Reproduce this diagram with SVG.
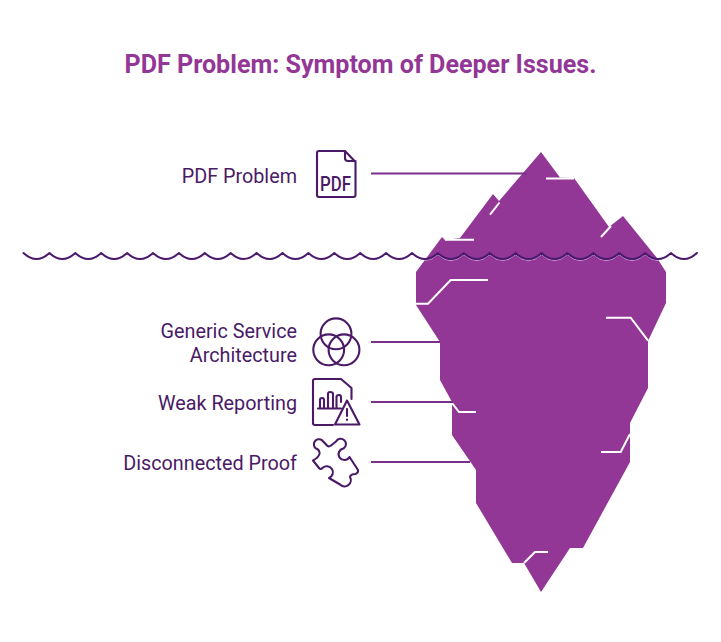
<svg xmlns="http://www.w3.org/2000/svg" width="721" height="642" viewBox="0 0 721 642">
<style>
.title{font:700 25.100px Roboto,"Liberation Sans",sans-serif;fill:#933797}
.label{font:400 19.800px Roboto,"Liberation Sans",sans-serif;fill:#4a1a66;text-anchor:end}
.ico{fill:none;stroke:#4a1a66;stroke-width:2.100;stroke-linecap:round;stroke-linejoin:round}
.crack{fill:none;stroke:#fff;stroke-width:2;stroke-linejoin:miter}
.conn{fill:none;stroke:#7a2f8a;stroke-width:2}
.wave{fill:none;stroke:#4a1a6e;stroke-width:2;stroke-linecap:round;stroke-linejoin:round}
</style>
<defs>
<path id="wavePath" d="M23.500,253q13,12 25.900,0q13,12 25.900,0q13,12 25.900,0q13,12 25.900,0q13,12 25.900,0q13,12 25.900,0q13,12 25.900,0q13,12 25.900,0q13,12 25.900,0q13,12 25.900,0q13,12 25.900,0q13,12 25.900,0q13,12 25.900,0q13,12 25.900,0q13,12 25.900,0q13,12 25.900,0q13,12 25.900,0q13,12 25.900,0q13,12 25.900,0q13,12 25.900,0q13,12 25.900,0q13,12 25.900,0q13,12 25.900,0q13,12 25.900,0q13,12 25.900,0q13,12 25.900,0"/>
<clipPath id="bergClip"><path d="M541,152 L560,177.500 L574,178 L609,227 L623,216 L657,258 L666,272 L666,303 L648,341 L648,388 L630,423 L630,462 L583,548 L570,548 L541,592 L524,563 L512,563 L476,503 L476,470 L452,435 L452,402 L440,380 L440,342 L416,305 L416,272 L442,237 L445,240 L460,238 L493,194 L499,201 Z"/></clipPath>
</defs>
<rect width="721" height="642" fill="#fff"/>
<text class="title" x="360.500" y="72.500" text-anchor="middle">PDF Problem: Symptom of Deeper Issues.</text>
<g id="iceberg">
<path fill="#933797" d="M541,152 L560,177.500 L574,178 L609,227 L623,216 L657,258 L666,272 L666,303 L648,341 L648,388 L630,423 L630,462 L583,548 L570,548 L541,592 L524,563 L512,563 L476,503 L476,470 L452,435 L452,402 L440,380 L440,342 L416,305 L416,272 L442,237 L445,240 L460,238 L493,194 L499,201 Z"/>
<path class="crack" d="M546,178.500H574M490,214.700L499.500,202.500M445,239.700H474M601,237L611,226M416,303.700H428L450.700,280H488M606,317.700H630.700L648,340.700M452,403L459,412H476M601,452H620.700L630,434M524,563L535,552H548"/>
</g>
<g id="connectors">
<path class="conn" d="M371,173.500H527M371,342H440M371,402H453M371,462H470"/>
</g>
<g clip-path="url(#bergClip)"><use href="#wavePath" transform="translate(0,1.600)" fill="none" stroke="#c79bca" stroke-width="1"/></g>
<use id="water" href="#wavePath" class="wave"/>
<g id="pdf-problem">
<text class="label" x="297" y="182.500">PDF Problem</text>
<path class="ico" d="M345,151H319Q317,151 317,153V195Q317,197 319,197H353.500Q355.500,197 355.500,195V162L345,151V158Q345,161 348,161H355.500"/>
<text x="320" y="191" font-family="Roboto,'Liberation Sans',sans-serif" font-size="20" font-weight="500" fill="#4a1a66" textLength="31" lengthAdjust="spacingAndGlyphs">PDF</text>
</g>
<g id="generic-service">
<text class="label" x="297" y="338">Generic Service</text>
<text class="label" x="297" y="362">Architecture</text>
<circle class="ico" cx="336" cy="333.800" r="15.400"/>
<circle class="ico" cx="328.700" cy="349.800" r="15.400"/>
<circle class="ico" cx="344" cy="349.800" r="15.400"/>
</g>
<g id="weak-reporting">
<text class="label" x="297" y="410">Weak Reporting</text>
<path class="ico" d="M333,425H315Q313,425 313,423V381Q313,379 315,379H341L351.500,388V399"/>
<path class="ico" d="M318,408.500H341M320,408.500V400Q320,398 322,398Q324,398 324,400V408.500M328,408.500V394Q328,392 330,392Q333,392 333,394V408.500M336.500,408.500V397Q336.500,395 339,395Q341,395 341,397V402"/>
<path class="ico" d="M347,400.500L335,424.500H359.500Z"/>
<path class="ico" d="M347,409V416M347,419.500V420"/>
</g>
<g id="disconnected-proof">
<text class="label" x="297" y="470">Disconnected Proof</text>
<path class="ico" d="M322,440.200L327.500,446Q329,447 331,445.500L336,441.500A5.300,5.300 0 1 1 343.500,448.500A5.800,5.800 0 1 0 349.500,457L358,470Q358.500,473 355.500,474Q350.500,474 350,477A6.300,6.300 0 0 1 340,484.500L329,478A6.100,6.100 0 1 0 322.500,468Q320.500,470 319,468L313,460.500Q318,458 319.500,454Q320,450 316,448.500A4.800,4.800 0 1 1 322,440.200Z"/>
</g>
</svg>
